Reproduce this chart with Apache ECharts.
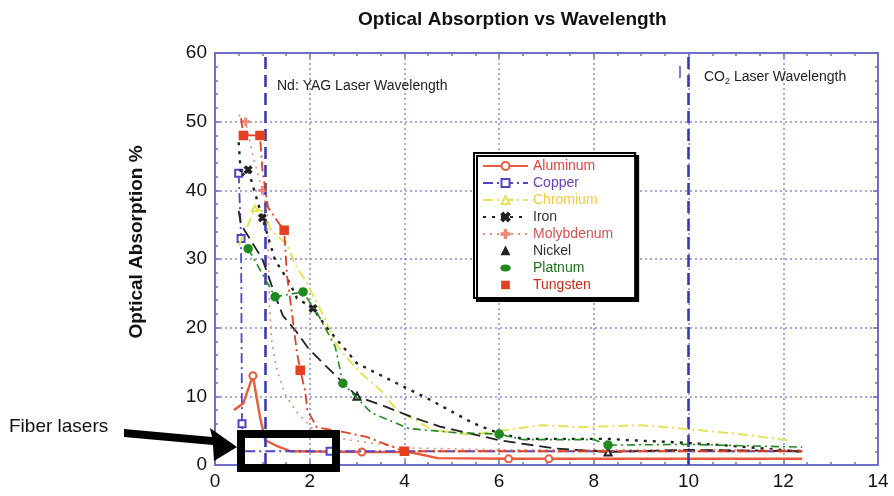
<!DOCTYPE html>
<html>
<head>
<meta charset="utf-8">
<script src="https://cdn.jsdelivr.net/npm/echarts@6/dist/echarts.min.js"></script>
<style>html,body{margin:0;padding:0;background:#fff}#c{width:894px;height:496px}</style>
</head>
<body>
<div id="c"></div>
<script>
// ---- data (wavelength µm, absorption %) ----
const seriesNames = ['Aluminum','Copper','Chromium','Iron','Molybdenum','Nickel','Platnum','Tungsten'];
const aluminum = [[0.4,8],[0.6,9],[0.8,13],[0.95,7],[1.06,3.6],[1.3,2.8],[1.6,2],[3.1,1.9],[4.1,1.9],[4.7,1],[6.2,0.9],[7.05,0.9],[10,0.9],[12.4,0.9]];
const copper = [[0.5,42.5],[0.55,33],[0.57,6],[0.6,2],[1.1,2],[2.43,2],[4,2],[6,2],[8,2],[10,2],[12.4,2]];
const chromium = [[0.5,32],[0.7,35],[0.84,37.4],[1.0,37],[1.2,34],[1.5,32.3],[1.73,28.7],[1.9,27],[2.27,22],[2.53,17.9],[2.7,16.3],[3.06,13.5],[3.5,10.9],[3.84,8],[4.6,5.1],[5.4,4.4],[6.9,5.8],[7.7,5.5],[9,5.8],[10.2,5.1],[11.2,4.4],[12.1,3.6]];
const iron = [[0.5,47],[0.55,42],[0.7,43],[1.0,36],[1.27,29.8],[1.44,28],[1.58,26.5],[1.73,24.3],[2.07,22.8],[2.36,20],[3.0,14.8],[3.84,11.9],[4.54,9.5],[5.45,6.1],[6.0,4.6],[6.5,3.8],[8.3,3.8],[8.8,3.6],[9.75,3.3],[10.7,2.9],[12.1,2.1],[12.4,1.9]];
const molybdenum = [[0.5,51],[0.65,50],[0.8,45],[1.0,40],[1.1,37],[1.13,30],[1.15,23],[1.2,18],[1.3,14],[1.5,10],[1.75,7.5],[2.1,5],[2.5,4],[3,3.5],[4,2.5],[6,2.2],[8,2.2],[10,2.2],[12.4,2.2]];
const nickel = [[0.5,37],[0.55,35],[1.0,30],[1.27,24.7],[1.43,21.8],[1.72,19.4],[1.97,17],[2.36,14.3],[3.0,10],[3.6,8.5],[4.15,7],[4.75,5.6],[5.25,4.8],[6.0,3.6],[7.2,2.4],[8.3,1.9],[10,2.2],[12.4,2]];
const platnum = [[0.7,31.5],[1.27,24.5],[1.86,25.2],[2.2,21.6],[2.54,17.2],[2.7,11.9],[3.3,7.6],[4.1,5.3],[5.1,4.7],[6.0,4.5],[6.5,3.7],[8.0,3.7],[8.3,2.9],[10,3],[12.4,2.6]];
const tungsten = [[0.55,50.5],[0.6,48],[0.95,48],[1.0,43],[1.12,37.5],[1.37,35],[1.46,34.2],[1.52,27.6],[1.63,21.8],[1.73,16.4],[1.8,13.8],[1.9,10.9],[1.95,8],[2.07,6.5],[2.15,5.5],[2.78,4.7],[3.2,4.1],[3.65,2.9],[4.0,2],[4.6,2],[6,2],[8,2],[10,2],[12.4,2]];
// wavelengths where a marker is drawn on each curve
const aluminumMarks = [0.8, 3.1, 6.2, 7.05];
const copperMarks = [0.5, 0.55, 0.57, 2.43];
const chromiumMarks = [0.84];
const ironMarks = [0.7, 1.0, 2.07];
const molybdenumMarks = [0.65, 1.0];
const nickelMarks = [3.0, 8.3];
const platnumMarks = [0.7, 1.27, 1.86, 2.7, 6.0, 8.3];
const tungstenMarks = [0.6, 0.95, 1.46, 1.8, 4.0];
const laserLines = [1.06, 10];
const xTicks = [0, 14, 2];
const yTicks = [0, 60, 10];

const FONT = "'Liberation Sans', Arial, sans-serif";
const X_PATH = 'path://M0,2L2,0L5,3L8,0L10,2L7,5L10,8L8,10L5,7L2,10L0,8L3,5Z';
const PLUS_PATH = 'path://M4,0H6V4H10V6H6V10H4V6H0V4H4Z';

const styles = {
  Aluminum:   {data: aluminum,   marks: aluminumMarks,   color:'#ea5a3c', type:'solid',    width:2.4, symbol:'emptyCircle', size:7, text:'#e8423a'},
  Copper:     {data: copper,     marks: copperMarks,     color:'#4e46c4', type:[10,4,2,4], width:1.8, symbol:'emptyRect', size:7, text:'#6a3fc0'},
  Chromium:   {data: chromium,   marks: chromiumMarks,   color:'#e6e25a', type:[10,4,2,4], width:2,   symbol:'emptyTriangle', size:6, text:'#f0cc40'},
  Iron:       {data: iron,       marks: ironMarks,       color:'#222222', type:[3,6],      width:2.4, symbol:X_PATH, size:7, text:'#333333'},
  Molybdenum: {data: molybdenum, marks: molybdenumMarks, color:'#ec8a78', type:[2,5],      width:1.6, symbol:PLUS_PATH, size:7, text:'#d85050'},
  Nickel:     {data: nickel,     marks: nickelMarks,     color:'#222222', type:[12,6],     width:1.8, symbol:'emptyTriangle', size:7, text:'#333333'},
  Platnum:    {data: platnum,    marks: platnumMarks,    color:'#1f8a1f', type:[8,4,2,4],  width:1.6, symbol:'circle', size:8, text:'#1a701a'},
  Tungsten:   {data: tungsten,   marks: tungstenMarks,   color:'#e3401f', type:[10,4,2,4], width:1.8, symbol:'rect', size:8, text:'#d22a1a'}
};
const legendIcons = {
  Nickel: 'path://M0,0M12,12M6,2L10,10L2,10Z',
  Platnum: 'path://M0,0M12,12M1,6C1,4 3,3 6,3C9,3 11,4 11,6C11,8 9,9 6,9C3,9 1,8 1,6Z',
  Tungsten: 'path://M0,0M12,12M2,2H10V10H2Z'
};

const series = seriesNames.map((n, i) => {
  const s = styles[n];
  const o = {
    name: n, type: 'line', data: s.data, xAxisIndex: 0, yAxisIndex: 0,
    symbol: s.symbol, showSymbol: true,
    symbolSize: (v) => (s.marks.indexOf(v[0]) >= 0 ? s.size : 0),
    itemStyle: {color: s.color, borderColor: s.color, borderWidth: 1.5},
    lineStyle: {color: s.color, type: s.type, width: s.width},
    z: 3 + i, animation: false
  };
  if (n === 'Copper') {
    o.markLine = {
      silent: true, symbol: 'none', animation: false,
      label: {show: false},
      lineStyle: {color: '#3b3bb3', type: [12, 6], width: 2.6},
      data: laserLines.map(v => ({xAxis: v}))
    };
  }
  return o;
});

const gridCol = '#8c8cd6';
const frameCol = '#6f6fc6';
function xAx(pos, labels) {
  return {
    type: 'value', position: pos, min: xTicks[0], max: xTicks[1], interval: xTicks[2],
    axisLine: {show: true, onZero: false, lineStyle: {color: frameCol, width: 2}},
    axisTick: {show: true, inside: true, length: 5, lineStyle: {color: frameCol, width: 1.5}},
    minorTick: {show: true, splitNumber: 4, length: 3, lineStyle: {color: frameCol, width: 1.5}},
    axisLabel: {show: labels, color: '#111', fontSize: 19, fontFamily: FONT, margin: 7},
    splitLine: {show: labels, lineStyle: {color: gridCol, type: [2, 3], width: 1.5}}
  };
}
function yAx(pos, labels) {
  return {
    type: 'value', position: pos, min: yTicks[0], max: yTicks[1], interval: yTicks[2],
    axisLine: {show: true, onZero: false, lineStyle: {color: frameCol, width: 2}},
    axisTick: {show: true, inside: true, length: 5, lineStyle: {color: frameCol, width: 1.5}},
    minorTick: {show: true, splitNumber: 5, length: 3, lineStyle: {color: frameCol, width: 1.5}},
    axisLabel: {show: labels, color: '#111', fontSize: 19, fontFamily: FONT, margin: 8},
    splitLine: {show: labels, lineStyle: {color: gridCol, type: [2, 3], width: 1.5}}
  };
}

const chart = echarts.init(document.getElementById('c'), null, {renderer: 'canvas'});
chart.setOption({
  backgroundColor: '#fff',
  animation: false,
  title: {
    text: 'Optical Absorption vs Wavelength', left: 353, top: 5,
    textStyle: {fontSize: 19, fontWeight: 'bold', color: '#111', fontFamily: FONT}
  },
  grid: {left: 215, right: 16, top: 53, bottom: 31, containLabel: false},
  xAxis: [xAx('bottom', true), xAx('top', false)],
  yAxis: [yAx('left', true), yAx('right', false)],
  legend: {
    orient: 'vertical', left: 474, top: 153,
    padding: [6, 22, 6, 8],
    itemWidth: 45, itemHeight: 10, itemGap: 3,
    symbolKeepAspect: true,
    backgroundColor: '#fff', borderColor: '#000', borderWidth: 2,
    shadowColor: '#000', shadowBlur: 0, shadowOffsetX: 3, shadowOffsetY: 3,
    textStyle: {fontSize: 14, fontFamily: FONT, lineHeight: 14},
    data: seriesNames.map(n => {
      const d = {name: n, textStyle: {color: styles[n].text}};
      if (legendIcons[n]) d.icon = legendIcons[n];
      return d;
    })
  },
  series: series,
  graphic: [
    {type: 'text', x: 137, y: 242, rotation: Math.PI / 2, z: 10,
      style: {text: 'Optical Absorption %', fill: '#111', font: 'bold 19px ' + FONT, align: 'center', verticalAlign: 'middle'}},
    {type: 'text', x: 277, y: 86, z: 10,
      style: {text: 'Nd: YAG Laser Wavelength', fill: '#222', font: '14px ' + FONT, verticalAlign: 'middle'}},
    {type: 'text', x: 704, y: 77, z: 10,
      style: {rich: {b: {fontSize: 14, fontFamily: FONT, fill: '#222'}, s: {fontSize: 9, fontFamily: FONT, fill: '#222', padding: [9, 0, 0, 0]}},
        text: '{b|CO}{s|2}{b| Laser Wavelength}', verticalAlign: 'middle'}},
    {type: 'line', z: 10, shape: {x1: 680, y1: 66, x2: 680, y2: 78}, style: {stroke: '#5050c0', lineWidth: 1.5}},
    {type: 'text', x: 9, y: 427, z: 10,
      style: {text: 'Fiber lasers', fill: '#111', font: '19px ' + FONT, verticalAlign: 'middle'}},
    {type: 'polygon', z: 20, shape: {points: [[124,429],[212,437],[210,428],[237,447],[214,461],[213,445],[124,437]]},
      style: {fill: '#000'}},
    {type: 'rect', z: 20, shape: {x: 241, y: 434, width: 95, height: 34},
      style: {fill: 'none', stroke: '#000', lineWidth: 8}}
  ]
});
</script>
</body>
</html>
